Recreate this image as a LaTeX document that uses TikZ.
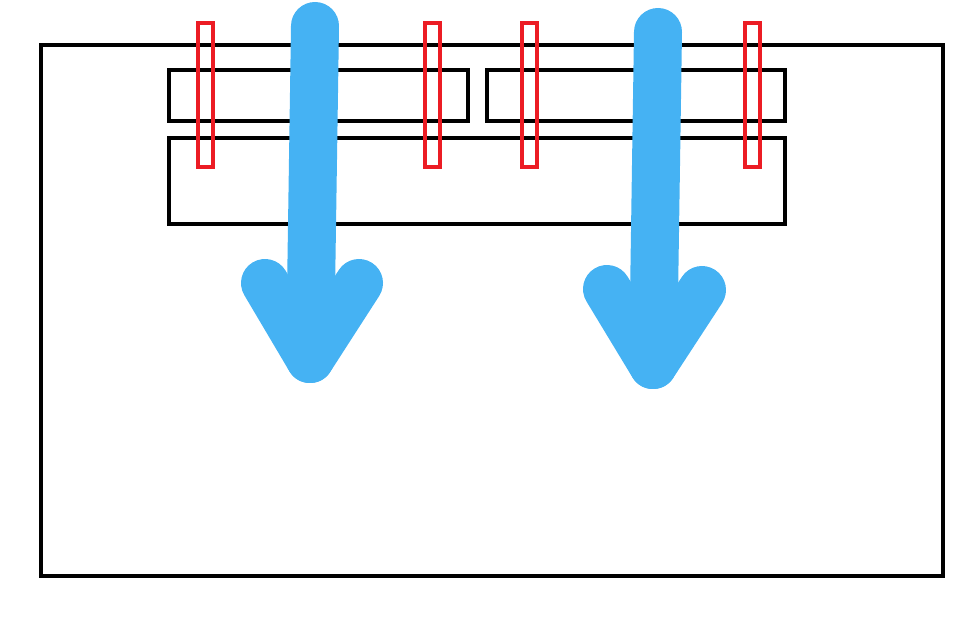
\documentclass[tikz,border=0pt]{standalone}
\usepackage{xcolor}
\usepackage{tikz}
\usetikzlibrary{calc}
\definecolor{skyblue}{HTML}{45B2F3}
\definecolor{clipred}{HTML}{EC1C24}
\tikzstyle{frame} = [draw=black,line width=4.5pt]
\tikzstyle{clipbox} = [draw=clipred,line width=4.5pt]
\tikzstyle{flow} = [skyblue,line width=48pt,line cap=round,line join=round]

\begin{document}
\begin{tikzpicture}[x=1pt,y=-1pt]
        \useasboundingbox (0,0) rectangle (978,617);
        % outer box and slots
        \draw[frame] (41,45) rectangle (943,576);
        \draw[frame] (169,70) rectangle (468,121);
        \draw[frame] (487,70) rectangle (785,121);
        \draw[frame] (169,138) rectangle (785,224);
        % clips
        \foreach \x in {198,425,522,745}
            \draw[clipbox] (\x,23) rectangle ++(15,144);
        % arrows
        \coordinate (top-l) at (315,26);
        \coordinate (tip-l) at (310,359);
        \coordinate (top-r) at (658,32);
        \coordinate (tip-r) at (653,365);
        \draw[flow] (top-l) -- (tip-l);
        \draw[flow] (265,283) -- (tip-l) -- (359,283);
        \draw[flow] (top-r) -- (tip-r);
        \draw[flow] (607,289) -- (tip-r) -- (702,290);
    \end{tikzpicture}
\end{document}
